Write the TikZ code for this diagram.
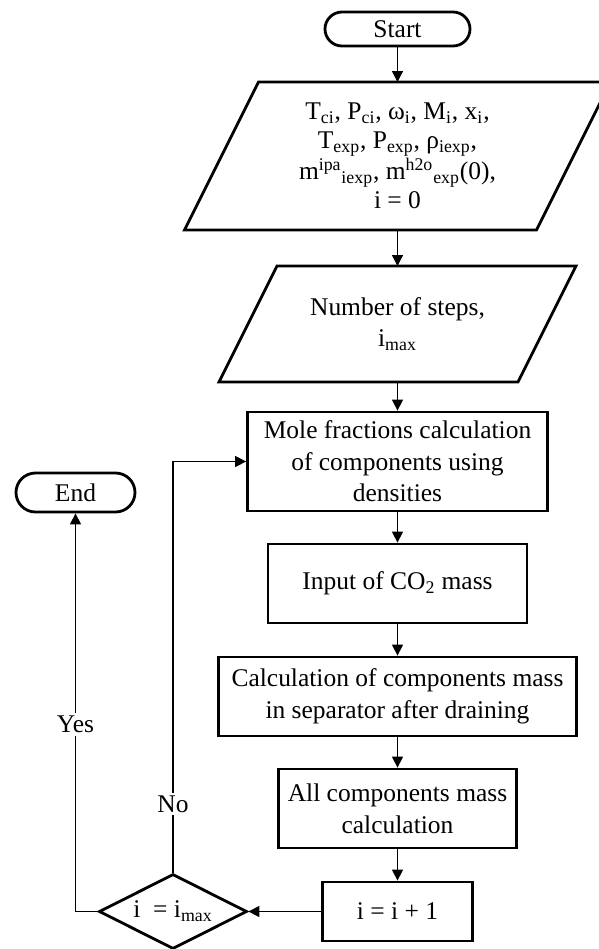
\documentclass[tikz,border=0pt]{standalone}
\usepackage{fontspec}
\setmainfont{Liberation Serif}
\usepackage{tikz}
\usetikzlibrary{positioning,arrows.meta,shapes.geometric,calc}

\begin{document}
\begin{tikzpicture}[
  font=\fontsize{14.5}{18}\selectfont,
  terminal/.style={rectangle, draw=black, line width=1.6pt, rounded corners=0.34cm, minimum width=2.9cm, minimum height=0.68cm, inner sep=0pt, align=center},
  process/.style={rectangle, draw=black, line width=1.6pt, minimum height=1.58cm, inner sep=2pt, align=center},
  iobody/.style={rectangle, outer sep=0pt, inner sep=2pt, align=center},
  ioline/.style={draw=black, line width=1.6pt},
  decision/.style={diamond, aspect=2, draw=black, line width=1.6pt, minimum width=2.96cm, minimum height=1.5cm, inner sep=0pt, align=center},
  flow/.style={-{Triangle[length=0.22cm, width=0.22cm]}, line width=0.8pt},
  note/.style={fill=white, inner sep=1.5pt}
]
\useasboundingbox (0,0) rectangle (11.98,-18.98);

% Start
\node[terminal] (start) at (7.95,-0.58) {Start};

% Input data (parallelograms)
\node[iobody, minimum width=7.04cm, minimum height=2.96cm, font=\fontsize{14.5}{16.5}\selectfont] (data) at (7.95,-3.12) {T\textsubscript{ci}, P\textsubscript{ci}, ω\textsubscript{i}, M\textsubscript{i}, x\textsubscript{i},\\
T\textsubscript{exp}, P\textsubscript{exp}, ρ\textsubscript{iexp},\\
m\textsuperscript{ipa}\textsubscript{iexp}, m\textsuperscript{h2o}\textsubscript{exp}(0),\\
i = 0};
\draw[ioline] ($(data.south west)+(-0.74,0)$) -- ($(data.north west)+(0.74,0)$) -- ($(data.north east)+(0.74,0)$) -- ($(data.south east)+(-0.74,0)$) -- cycle;

\node[iobody, minimum width=5.98cm, minimum height=2.32cm] (steps) at (7.95,-6.48) {Number of steps,\\ i\textsubscript{max}};
\draw[ioline] ($(steps.south west)+(-0.58,0)$) -- ($(steps.north west)+(0.58,0)$) -- ($(steps.north east)+(0.58,0)$) -- ($(steps.south east)+(-0.58,0)$) -- cycle;

% Loop body
\node[process, minimum width=6.0cm, minimum height=1.98cm] (mole) at (7.95,-9.23) {Mole fractions calculation\\ of components using\\ densities};
\node[process, minimum width=5.18cm] (co2) at (7.95,-11.67) {Input of CO\textsubscript{2} mass};
\node[process, minimum width=7.16cm] (sep) at (7.95,-13.93) {Calculation of components mass\\ in separator after draining};
\node[process, minimum width=4.76cm] (total) at (7.95,-16.17) {All components mass\\ calculation};
\node[process, minimum width=3.0cm, minimum height=1.18cm] (incr) at (7.95,-18.23) {i = i + 1};

% Check and End
\node[decision] (check) at (3.46,-18.23) {i~~= i\textsubscript{max}};
\node[terminal, minimum width=2.38cm, minimum height=0.78cm, rounded corners=0.39cm] (stop) at (1.51,-9.85) {End};

% Main flow
\draw[flow] (start.south) -- (data.north);
\draw[flow] (data.south) -- (steps.north);
\draw[flow] (steps.south) -- (mole.north);
\draw[flow] (mole.south) -- (co2.north);
\draw[flow] (co2.south) -- (sep.north);
\draw[flow] (sep.south) -- (total.north);
\draw[flow] (total.south) -- (incr.north);
\draw[flow] (incr.west) -- (check.east);

% Branches
\draw[flow] (check.north) |- node[note, pos=0.083] {No} (mole.west);
\draw[flow] (check.west) -| node[note, pos=0.735] {Yes} (stop.south);

\end{tikzpicture}
\end{document}
